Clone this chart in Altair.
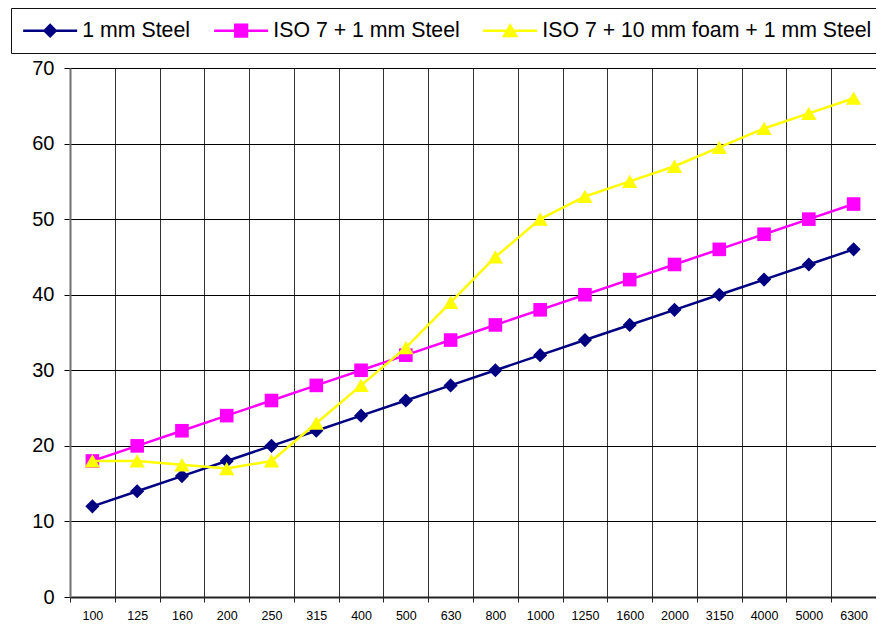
import altair as alt
import pandas as pd

freqs = ["100", "125", "160", "200", "250", "315", "400", "500", "630", "800",
         "1000", "1250", "1600", "2000", "3150", "4000", "5000", "6300"]
series_names = ["1 mm Steel", "ISO 7 + 1 mm Steel", "ISO 7 + 10 mm foam + 1 mm Steel"]
steel = [12, 14, 16, 18, 20, 22, 24, 26, 28, 30, 32, 34, 36, 38, 40, 42, 44, 46]
iso7 = [18, 20, 22, 24, 26, 28, 30, 32, 34, 36, 38, 40, 42, 44, 46, 48, 50, 52]
foam = [18, 18, 17.5, 17, 18, 23, 28, 33, 39, 45, 50, 53, 55, 57, 59.5, 62, 64, 66]
y_ticks = [0, 10, 20, 30, 40, 50, 60, 70]

colors = ["#000080", "#FF00FF", "#FFFF00"]
marker_shapes = ["diamond", "square", "triangle-up"]
marker_sizes = [200, 185, 235]
# legend symbols: line stub + marker (unit = half of the nominal symbol side)
stub = "M-2.571,-0.119H2.571V0.119H-2.571Z"
legend_paths = [
    stub + " M0,-0.7L0.7,0L0,0.7L-0.7,0Z",
    stub + " M-0.68,-0.68H0.68V0.68H-0.68Z",
    stub + " M0,-0.72L0.78,0.62H-0.78Z",
]

rows = []
for name, vals in zip(series_names, [steel, iso7, foam]):
    for f, v in zip(freqs, vals):
        rows.append({"freq": f, "value": v, "series": name})
df = pd.DataFrame(rows)

x_enc = alt.X(
    "freq:N",
    sort=freqs,
    scale=alt.Scale(type="band", paddingInner=0, paddingOuter=0),
    axis=alt.Axis(
        title=None, labelAngle=0, tickBand="extent", grid=True,
        gridColor="#333333", gridWidth=1, tickColor="#222222", tickSize=5,
        labelFontSize=12.5, labelFont="Liberation Sans", labelColor="black",
        labelPadding=7, domainColor="#222222", domainWidth=2,
    ),
)
y_enc = alt.Y(
    "value:Q",
    scale=alt.Scale(domain=[0, 70], nice=False),
    axis=alt.Axis(
        title=None, values=y_ticks, grid=True, gridColor="black", gridWidth=1,
        tickColor="black", tickSize=6, labelFontSize=20, labelFont="Liberation Sans",
        labelColor="black", labelPadding=10, domainColor="#707070", domainWidth=2,
    ),
)

legend_def = alt.Legend(
    title=None, orient="none", legendX=-59, legendY=-60, direction="horizontal",
    columns=3, symbolSize=441, symbolStrokeWidth=0, symbolOffset=16.5,
    symbolOpacity=1, labelFontSize=21.3, labelFont="Liberation Sans",
    labelColor="black", labelOffset=21.5, columnPadding=23, padding=12,
    strokeColor="#111111", fillColor="white", labelLimit=0,
)
legend_layer = alt.Chart(df).mark_point(filled=True, size=0, opacity=1).encode(
    x=x_enc, y=y_enc,
    color=alt.Color("series:N", scale=alt.Scale(domain=series_names, range=colors), legend=legend_def),
    shape=alt.Shape("series:N", scale=alt.Scale(domain=series_names, range=legend_paths), legend=legend_def),
)
layers = [legend_layer]

for i, name in enumerate(series_names):
    base = alt.Chart(df).transform_filter(alt.datum.series == name)
    line = base.mark_line(strokeWidth=2.5).encode(
        x=x_enc, y=y_enc, color=alt.value(colors[i]),
    )
    pts = base.mark_point(shape=marker_shapes[i], filled=True, size=marker_sizes[i], opacity=1).encode(
        x=x_enc, y=y_enc, color=alt.value(colors[i]),
    )
    layers += [line, pts]

chart = alt.layer(*layers).properties(
    width=806, height=529,
    autosize=alt.AutoSizeParams(type="none"),
    padding={"left": 62, "top": 60, "right": 0, "bottom": 30},
).configure_view(stroke="#808080", strokeWidth=2).configure(background="white")

chart.save("out.html", embed_options={"renderer": "svg", "actions": False})
